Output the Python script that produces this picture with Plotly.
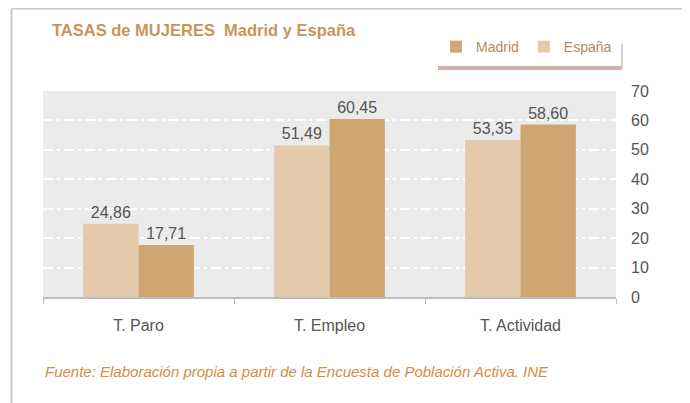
import plotly.graph_objects as go

categories = ["T. Paro", "T. Empleo", "T. Actividad"]
espana = [24.86, 51.49, 53.35]
madrid = [17.71, 60.45, 58.60]
y_ticks = [0, 10, 20, 30, 40, 50, 60, 70]

def fmt(v):
    return f"{v:.2f}".replace(".", ",")

OFF = 8  # page body margin
W, H = 690 - OFF, 403 - OFF
# plot area in screen pixels
L, R, T, B = 43, 616, 91, 297
pw, ph = R - L, B - T

def px(x):
    return (x - L) / pw

def py(y):
    return (B - y) / ph

fig = go.Figure()
fig.add_trace(go.Bar(
    name="España", x=categories, y=espana,
    marker=dict(color="#e2caab", line=dict(width=0)),
    text=[fmt(v) for v in espana], textposition="outside",
    textfont=dict(size=16, color="#555555", family="Liberation Sans"),
    cliponaxis=False,
))
fig.add_trace(go.Bar(
    name="Madrid", x=categories, y=madrid,
    marker=dict(color="#cfa571", line=dict(width=0)),
    text=[fmt(v) for v in madrid], textposition="outside",
    textfont=dict(size=16, color="#555555", family="Liberation Sans"),
    cliponaxis=False,
))

shapes = [
    # outer frame
    dict(type="line", xref="paper", yref="paper", x0=px(11.5), x1=px(700), y0=py(8.5), y1=py(8.5),
         line=dict(color="#c8c8c8", width=2)),
    dict(type="line", xref="paper", yref="paper", x0=px(11.5), x1=px(11.5), y0=py(8.5), y1=py(410),
         line=dict(color="#c8c8c8", width=2)),
    # legend box decoration
    dict(type="rect", xref="paper", yref="paper", x0=px(438), x1=px(622), y0=py(70), y1=py(66),
         fillcolor="#d8adae", line=dict(width=0), layer="above"),
    dict(type="line", xref="paper", yref="paper", x0=px(622), x1=px(622), y0=py(44), y1=py(69),
         line=dict(color="#d0d0d0", width=2)),
]

fig.update_layout(
    width=W, height=H,
    margin=dict(l=L - OFF, r=W - (R - OFF), t=T - OFF, b=H - (B - OFF)),
    paper_bgcolor="white",
    plot_bgcolor="#ebebeb",
    barmode="group",
    bargap=0.42,
    bargroupgap=0,
    showlegend=True,
    legend=dict(
        orientation="h", traceorder="reversed",
        x=px(436), y=py(31), xanchor="left", yanchor="top",
        font=dict(size=14, color="#b8895a", family="Liberation Sans"),
        bgcolor="rgba(0,0,0,0)", itemwidth=30,
    ),
    font=dict(family="Liberation Sans", color="#555555"),
    shapes=shapes,
    annotations=[
        dict(text="<b>TASAS de MUJERES  Madrid y España</b>", xref="paper", yref="paper",
             x=px(50), y=py(30), xanchor="left", yanchor="middle", showarrow=False,
             font=dict(size=16.5, color="#c8945a", family="Liberation Sans")),
        dict(text="<i>Fuente: Elaboración propia a partir de la Encuesta de Población Activa. INE</i>",
             xref="paper", yref="paper", x=px(43), y=py(371), xanchor="left", yanchor="middle",
             showarrow=False,
             font=dict(size=15, color="#d38c45", family="Liberation Sans")),
    ],
    xaxis=dict(
        showgrid=False, showline=True, linecolor="#bdbdbd", linewidth=2,
        ticks="outside", tickson="boundaries", ticklen=5, tickcolor="#bdbdbd",
        tickfont=dict(size=16, color="#555555"), ticklabelstandoff=13,
    ),
    yaxis=dict(
        side="right", range=[0, 70], tickvals=y_ticks,
        showgrid=True, gridcolor="white", gridwidth=1.5, griddash="10px,4px,3px,4px",
        zeroline=False, showline=False,
        tickfont=dict(size=16, color="#555555"), ticklabelstandoff=14,
    ),
)

fig.write_html("out.html")
